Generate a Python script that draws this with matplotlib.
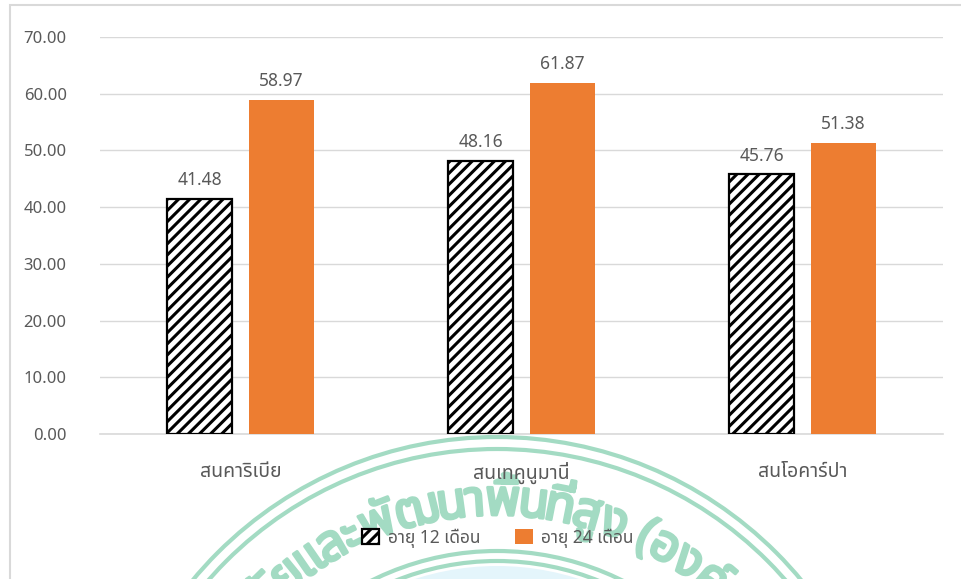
import matplotlib
matplotlib.use("Agg")
import numpy as np
import matplotlib.pyplot as plt
from matplotlib import font_manager, patches, patheffects
from matplotlib.ft2font import FT2Font
from matplotlib.textpath import TextPath
from matplotlib.font_manager import FontProperties

# ---- data -------------------------------------------------------------
categories = ['สนคาริเบีย', 'สนเทคูนูมานี่', 'สนโอคาร์ปา']
age_12 = [41.48, 48.16, 45.76]
age_24 = [58.97, 61.87, 51.38]
series_labels = ['อายุ 12 เดือน', 'อายุ 24 เดือน']
y_ticks = [0, 10, 20, 30, 40, 50, 60, 70]
stamp_text = 'สถาบันวิจัยและพัฒนาพื้นที่สูง (องค์การมหาชน)'


def find_thai_font():
    preferred = ['Noto Sans Thai', 'Noto Sans Thai UI', 'Noto Sans Thai Looped',
                 'Leelawadee UI', 'Tahoma', 'Sarabun', 'Loma', 'Garuda',
                 'Norasi', 'Kinnari', 'Noto Serif Thai']
    names = {f.name: f.fname for f in font_manager.fontManager.ttflist}
    for p in preferred:
        if p in names:
            return p
    for f in font_manager.fontManager.ttflist:
        try:
            cmap = FT2Font(f.fname).get_charmap()
        except Exception:
            continue
        if 0x0E2A in cmap and 0x0E19 in cmap and 0x0E32 in cmap:
            return f.name
    return 'DejaVu Sans'


thai_font = find_thai_font()
latin_font = 'Noto Sans'
plt.rcParams['font.family'] = [latin_font, thai_font, 'DejaVu Sans']
plt.rcParams['hatch.linewidth'] = 2.2

W, H = 962, 579
fig = plt.figure(figsize=(W / 100, H / 100), dpi=100)
fig.patch.set_facecolor('white')

# ---- stamp in the background -----------------------------------------
sax = fig.add_axes([0, 0, 1, 1], zorder=0)
sax.set_xlim(0, W)
sax.set_ylim(H, 0)
sax.axis('off')

green = '#a3dbc3'
cx, cy = 497, 832
sax.add_patch(patches.Circle((cx, cy), 266, facecolor='#e4f5fb', edgecolor='none'))
for r in (395, 383, 281, 271):
    sax.add_patch(patches.Circle((cx, cy), r, fill=False, edgecolor=green, lw=3.0))


def thai_clusters(s):
    marks = set([0x0E31] + list(range(0x0E34, 0x0E3B)) + list(range(0x0E47, 0x0E4F)))
    out = []
    for ch in s:
        if out and ord(ch) in marks:
            out[-1] += ch
        else:
            out.append(ch)
    return out


stamp_fp = FontProperties(family=thai_font, weight='bold')
stamp_pt = 36
stamp_px = stamp_pt * 100 / 72
clusters = thai_clusters(stamp_text)
widths = []
for c in clusters:
    if c == ' ':
        widths.append(12.0)
    else:
        ext = TextPath((0, 0), c, size=stamp_px, prop=stamp_fp).get_extents()
        widths.append(max(ext.width, 8.0) + 4.5)
centers = np.cumsum(widths) - np.array(widths) / 2
R_base = 317
R_mid = 330
anchor = clusters.index('พื้')
theta0 = np.deg2rad(1.0) - centers[anchor] / R_mid
thicken = [patheffects.withStroke(linewidth=2.2, foreground=green)]
for c, s in zip(clusters, centers):
    th = theta0 + s / R_mid
    x = cx + R_base * np.sin(th)
    y = cy - R_base * np.cos(th)
    sax.text(x, y, c, fontproperties=stamp_fp, fontsize=stamp_pt,
             color=green, ha='center', va='baseline', rotation=-np.rad2deg(th),
             rotation_mode='anchor', path_effects=thicken)

# frame around the chart area
fig.add_artist(patches.Rectangle((10 / W, -0.1), 1.2, 1 - 5 / H + 0.1,
                                 transform=fig.transFigure, fill=False,
                                 edgecolor='#d9d9d9', lw=1.5, zorder=0.5))

# ---- bar chart ----------------------------------------------------------
ax = fig.add_axes([100 / W, 1 - 434 / H, 843 / W, 397 / H], zorder=1)
ax.set_facecolor('none')
x = np.arange(len(categories))
bw = 0.23
off = 0.145
b1 = ax.bar(x - off, age_12, bw, facecolor='white', edgecolor='black',
            hatch='///', linewidth=1.6, label=series_labels[0], zorder=3)
b2 = ax.bar(x + off, age_24, bw, color='#ED7D31', label=series_labels[1], zorder=3)

lab_color = '#595959'
for bars, vals in ((b1, age_12), (b2, age_24)):
    for rect, v in zip(bars, vals):
        ax.annotate(f'{v:.2f}', (rect.get_x() + rect.get_width() / 2, v),
                    xytext=(0, 7), textcoords='offset points', ha='center',
                    va='bottom', fontsize=12.5, color=lab_color)

ax.set_xlim(-0.5, 2.5)
ax.set_ylim(0, 70)
ax.set_yticks(y_ticks)
ax.set_yticklabels([f'{t:.2f}' for t in y_ticks], fontsize=12, color=lab_color)
ax.set_xticks(x)
ax.set_xticklabels(categories, fontsize=14, color=lab_color,
                   family=[thai_font, 'DejaVu Sans'])
ax.tick_params(axis='both', length=0)
ax.tick_params(axis='y', pad=24)
ax.tick_params(axis='x', pad=20)
ax.grid(axis='y', color='#d9d9d9', lw=1.0, zorder=0)
for side in ('left', 'right', 'top'):
    ax.spines[side].set_visible(False)
ax.spines['bottom'].set_color('#d9d9d9')
ax.spines['bottom'].set_linewidth(1.2)

leg = fig.legend(handles=[b1, b2], labels=series_labels, loc='center',
                 bbox_to_anchor=(498 / W, 1 - 538 / H), ncol=2, frameon=False,
                 prop=FontProperties(family=[thai_font, latin_font], size=12.5),
                 handlelength=1.0, handleheight=1.0, columnspacing=2.0,
                 handletextpad=0.5)
for t in leg.get_texts():
    t.set_color(lab_color)

fig.savefig('out.png', dpi=100)
